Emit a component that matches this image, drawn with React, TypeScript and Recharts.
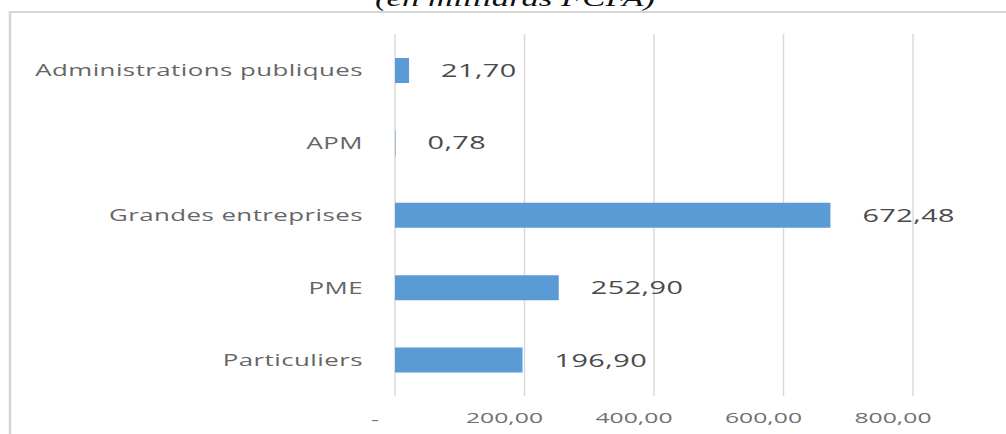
import React from 'react';
import { BarChart, Bar, XAxis, YAxis, CartesianGrid, LabelList } from 'recharts';

const categories = ['Administrations publiques', 'APM', 'Grandes entreprises', 'PME', 'Particuliers'];
const values = [21.7, 0.78, 672.48, 252.9, 196.9];
const xTicks = [0, 200, 400, 600, 800];
const title = '(en milliards FCFA)';

const data = categories.map((c, i) => ({ name: c, value: values[i] }));

const fmt = (v: number) => (v === 0 ? '-' : v.toFixed(2).replace('.', ','));

const FONT = '"Open Sans", "DejaVu Sans", sans-serif';

const YTick = (props: any) => {
  const { x, y, payload } = props;
  return (
    <g transform={`translate(${x - 32},${y}) scale(1.52,1)`}>
      <text x={0} y={0} dy="0.36em" textAnchor="end" fontFamily={FONT} fontSize={17} fill="#666666" letterSpacing={0.3}>
        {payload.value}
      </text>
    </g>
  );
};

const XTick = (props: any) => {
  const { x, y, payload } = props;
  const isZero = payload.value === 0;
  return (
    <g transform={`translate(${x - 20},${y + 27 + (isZero ? 2 : 0)}) scale(1.65,1)`}>
      <text x={0} y={0} textAnchor="middle" fontFamily={FONT} fontSize={15} fill="#707070">
        {fmt(payload.value)}
      </text>
    </g>
  );
};

const ValueLabel = (props: any) => {
  const { x, y, width, height, value } = props;
  return (
    <g transform={`translate(${x + width + 32},${y + height / 2}) scale(1.6,1)`}>
      <text x={0} y={0} dy="0.36em" textAnchor="start" fontFamily={FONT} fontSize={18} fill="#4a4a4a" letterSpacing={0.3}>
        {fmt(value)}
      </text>
    </g>
  );
};

export default function App() {
  return (
    <div style={{ position: 'absolute', left: 0, top: 0, width: 1006, height: 434, background: '#fff', overflow: 'hidden' }}>
      <svg width={1006} height={434} style={{ position: 'absolute', left: 0, top: 0 }}>
        <g transform="translate(515,6) scale(1.45,1)">
          <text x={0} y={0} textAnchor="middle" fontFamily='"Liberation Serif", serif' fontStyle="italic" fontWeight="normal" fontSize={24} fill="#111">
            {title}
          </text>
        </g>
        <line x1={9} y1={12} x2={1006} y2={12} stroke="#d6d6d6" strokeWidth={2} />
        <line x1={10} y1={11} x2={10} y2={434} stroke="#d6d6d6" strokeWidth={2.5} />
      </svg>
      <div style={{ position: 'absolute', left: 0, top: 0 }}>
        <BarChart
          width={1006}
          height={434}
          data={data}
          layout="vertical"
          margin={{ top: 34, right: 93, bottom: 0, left: 0 }}
        >
          <CartesianGrid horizontal={false} stroke="#d9d9d9" strokeWidth={1.5} />
          <XAxis
            type="number"
            domain={[0, 800]}
            ticks={xTicks}
            axisLine={false}
            tickLine={false}
            tickSize={0}
            tickMargin={0}
            height={38}
            tick={<XTick />}
            interval={0}
          />
          <YAxis
            type="category"
            dataKey="name"
            width={395}
            axisLine={false}
            tickLine={false}
            tickSize={0}
            tickMargin={0}
            tick={<YTick />}
            interval={0}
          />
          <Bar dataKey="value" fill="#5B9BD5" barSize={25} isAnimationActive={false}>
            <LabelList dataKey="value" content={<ValueLabel />} />
          </Bar>
        </BarChart>
      </div>
    </div>
  );
}
